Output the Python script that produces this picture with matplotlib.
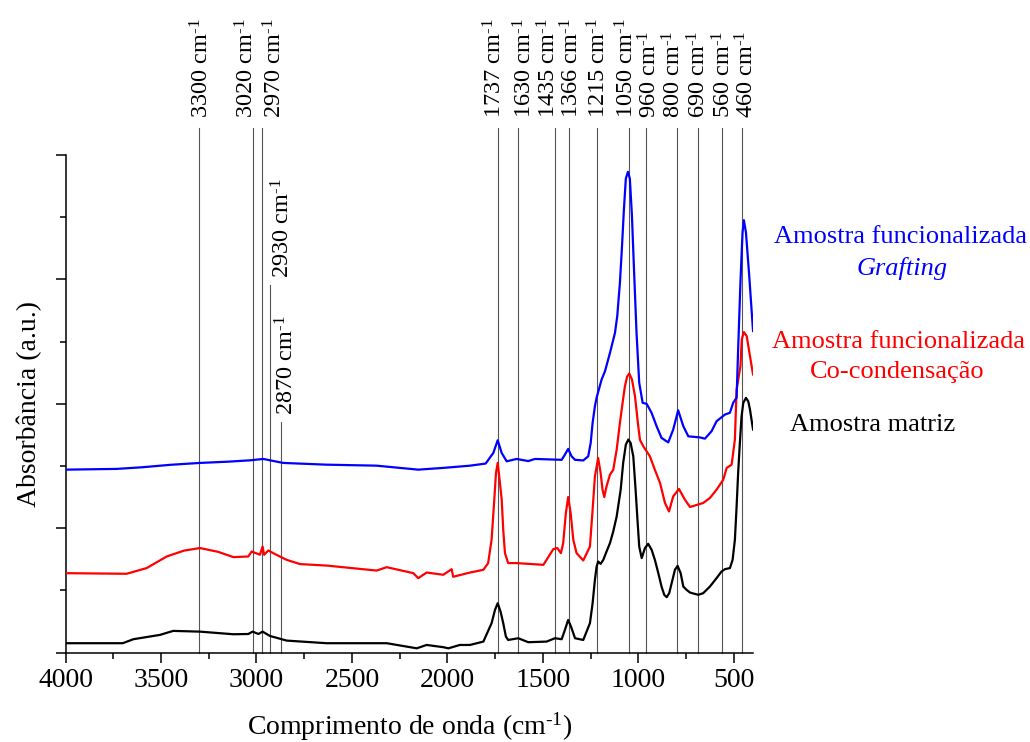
import matplotlib
matplotlib.use('Agg')
import matplotlib.pyplot as plt
from matplotlib.ticker import MultipleLocator

plt.rcParams['font.family'] = 'Liberation Serif'
plt.rcParams['mathtext.fontset'] = 'custom'
plt.rcParams['mathtext.rm'] = 'Liberation Serif'
plt.rcParams['mathtext.it'] = 'Liberation Serif:italic'

CM = r'cm$^{\text{-}1}$'

# FTIR spectra, wavenumber (cm-1) and absorbance (offset for stacking)
wn_matriz = [4000, 3700, 3645, 3505, 3436, 3296, 3121, 3043, 3020, 2990, 2968, 2929, 2842, 2633,
             2318, 2161, 2109, 2022, 1995, 1935, 1882, 1812, 1769, 1751, 1737, 1722, 1708, 1694,
             1682, 1629, 1577, 1481, 1437, 1402, 1385, 1368, 1353, 1332, 1289, 1254, 1240, 1228,
             1219, 1211, 1198, 1184, 1167, 1149, 1132, 1114, 1093, 1080, 1066, 1053, 1041, 1027,
             1015, 1004, 996, 983, 966, 949, 931, 914, 896, 879, 865, 852, 839, 826, 809, 795,
             779, 765, 748, 730, 687, 661, 626, 591, 565, 547, 521, 507, 495, 486, 478, 469, 460,
             451, 437, 425, 416, 400]
abs_matriz = [0.076, 0.076, 0.108, 0.143, 0.175, 0.169, 0.148, 0.150, 0.169, 0.150, 0.169, 0.134,
              0.097, 0.076, 0.076, 0.035, 0.062, 0.044, 0.035, 0.062, 0.062, 0.089, 0.237, 0.344,
              0.398, 0.33, 0.237, 0.129, 0.102, 0.116, 0.084, 0.089, 0.116, 0.108, 0.183, 0.263,
              0.209, 0.116, 0.102, 0.237, 0.398, 0.585, 0.692, 0.733, 0.714, 0.746, 0.813, 0.881,
              0.974, 1.095, 1.31, 1.525, 1.672, 1.713, 1.686, 1.578, 1.31, 1.042, 0.853, 0.76,
              0.84, 0.875, 0.827, 0.746, 0.639, 0.531, 0.465, 0.446, 0.478, 0.559, 0.666, 0.698,
              0.639, 0.531, 0.505, 0.483, 0.465, 0.478, 0.531, 0.599, 0.652, 0.671, 0.68, 0.746,
              0.907, 1.176, 1.444, 1.686, 1.90, 2.008, 2.048, 2.02, 1.954, 1.793]

wn_cocond = [4000, 3680, 3575, 3470, 3380, 3296, 3200, 3121, 3043, 3025, 2982, 2968, 2960, 2938,
             2900, 2842, 2772, 2633, 2371, 2318, 2179, 2153, 2109, 2022, 1978, 1970, 1882, 1812,
             1787, 1769, 1756, 1746, 1737, 1729, 1716, 1708, 1699, 1682, 1638, 1498, 1481, 1446,
             1425, 1406, 1394, 1380, 1368, 1355, 1341, 1324, 1289, 1254, 1240, 1228, 1211, 1198,
             1188, 1179, 1167, 1149, 1132, 1114, 1097, 1083, 1071, 1059, 1048, 1034, 1018, 1001,
             992, 975, 940, 914, 887, 861, 840, 818, 788, 757, 730, 661, 626, 591, 556, 538, 512,
             495, 486, 466, 459, 448, 433, 416, 400]
abs_cocond = [0.639, 0.634, 0.68, 0.773, 0.82, 0.841, 0.81, 0.768, 0.773, 0.813, 0.787, 0.853,
              0.787, 0.821, 0.79, 0.746, 0.712, 0.70, 0.66, 0.687, 0.639, 0.599, 0.644, 0.626,
              0.671, 0.61, 0.644, 0.666, 0.72, 0.907, 1.203, 1.444, 1.525, 1.417, 1.23, 0.988,
              0.80, 0.72, 0.72, 0.706, 0.746, 0.832, 0.841, 0.80, 0.881, 1.122, 1.251, 1.122,
              0.907, 0.80, 0.741, 0.853, 1.149, 1.417, 1.565, 1.444, 1.31, 1.251, 1.337, 1.431,
              1.47, 1.632, 1.847, 2.008, 2.14, 2.22, 2.244, 2.196, 2.06, 1.82, 1.71, 1.66, 1.578,
              1.47, 1.364, 1.203, 1.135, 1.256, 1.316, 1.23, 1.171, 1.203, 1.243, 1.31, 1.39,
              1.485, 1.511, 1.713, 2.115, 2.303, 2.518, 2.577, 2.544, 2.383, 2.236]

wn_grafting = [4000, 3732, 3600, 3450, 3296, 3150, 3034, 2964, 2929, 2860, 2633, 2371, 2153, 2022,
               1882, 1800, 1760, 1737, 1716, 1690, 1638, 1577, 1542, 1402, 1385, 1368, 1350, 1332,
               1289, 1263, 1250, 1240, 1228, 1219, 1193, 1175, 1149, 1123, 1111, 1097, 1087, 1076,
               1066, 1055, 1045, 1034, 1024, 1010, 996, 978, 957, 931, 905, 879, 844, 818, 792,
               765, 739, 678, 652, 617, 591, 547, 521, 504, 486, 478, 466, 455, 448, 437, 420, 400]
abs_grafting = [1.471, 1.477, 1.49, 1.51, 1.525, 1.535, 1.546, 1.557, 1.546, 1.525, 1.511, 1.503,
                1.471, 1.485, 1.503, 1.52, 1.605, 1.707, 1.605, 1.538, 1.557, 1.54, 1.557, 1.55,
                1.592, 1.638, 1.578, 1.55, 1.545, 1.578, 1.686, 1.847, 1.98, 2.05, 2.195, 2.263,
                2.41, 2.57, 2.705, 2.974, 3.24, 3.565, 3.81, 3.865, 3.81, 3.51, 3.108, 2.57, 2.17,
                2.008, 2.0, 1.927, 1.82, 1.726, 1.69, 1.793, 1.948, 1.82, 1.739, 1.73, 1.72, 1.78,
                1.86, 1.914, 1.928, 2.008, 2.05, 2.437, 2.974, 3.377, 3.476, 3.377, 3.03, 2.585]

# assigned bands
bands = [3300, 3020, 2970, 2930, 2870, 1737, 1630, 1435, 1366, 1215, 1050, 960, 800, 690, 560, 460]

# guide line top and label base in axes fraction, label baseline shift from the line in points
line_top = [1.054] * 3 + [0.739, 0.464] + [1.054] * 11
label_base = [1.074] * 3 + [0.753, 0.478] + [1.074] * 11
label_dx = [7, 0.5, 14, 14, 8.5, 3, 9.5, 0, 7.5, 6, 3, 7.5, 3, 6, 6, 8.5]

fig = plt.figure(figsize=(10.3, 7.42), dpi=100)
ax = fig.add_axes([0.0636, 0.1204, 0.6675, 0.6707])

for wn, top, base, dx in zip(bands, line_top, label_base, label_dx):
    ax.plot([wn, wn], [0, top], color='#555555', lw=0.8,
            transform=ax.get_xaxis_transform(), clip_on=False, zorder=1)
    ax.annotate(f'{wn} ' + CM, xy=(wn, base), xycoords=('data', 'axes fraction'),
                xytext=(dx, 0), textcoords='offset points', rotation=90,
                rotation_mode='anchor', ha='left', va='baseline', fontsize=17.5,
                annotation_clip=False)

ax.plot(wn_matriz, abs_matriz, color='black', lw=1.6, zorder=3)
ax.plot(wn_cocond, abs_cocond, color='red', lw=1.6, zorder=3)
ax.plot(wn_grafting, abs_grafting, color='blue', lw=1.6, zorder=3)

ax.set_xlim(4000, 400)
ax.set_ylim(0, 4)
ax.xaxis.set_major_locator(MultipleLocator(500))
ax.xaxis.set_minor_locator(MultipleLocator(250))
ax.yaxis.set_major_locator(MultipleLocator(1))
ax.yaxis.set_minor_locator(MultipleLocator(0.5))
ax.tick_params(which='major', direction='out', length=7.5, width=1.1, labelsize=20)
ax.tick_params(which='minor', direction='out', length=4.5, width=1.1)
ax.tick_params(axis='y', labelleft=False)
for s in ['top', 'right']:
    ax.spines[s].set_visible(False)
for s in ['left', 'bottom']:
    ax.spines[s].set_linewidth(1.1)

ax.set_xlabel('Comprimento de onda (' + CM + ')', fontsize=20, labelpad=13)
ax.set_ylabel('Absorbância (a.u.)', fontsize=20, labelpad=9)

fig.text(901 / 1030, 1 - 237 / 742, 'Amostra funcionalizada', color='blue',
         fontsize=19, ha='center', va='center')
fig.text(902 / 1030, 1 - 268 / 742, 'Grafting', color='blue', style='italic',
         fontsize=19, ha='center', va='center')
fig.text(898 / 1030, 1 - 342 / 742, 'Amostra funcionalizada', color='red',
         fontsize=19, ha='center', va='center')
fig.text(897 / 1030, 1 - 372 / 742, 'Co-condensação', color='red',
         fontsize=19, ha='center', va='center')
fig.text(873 / 1030, 1 - 425 / 742, 'Amostra matriz', color='black',
         fontsize=19, ha='center', va='center')

fig.savefig('out.png', dpi=100)
